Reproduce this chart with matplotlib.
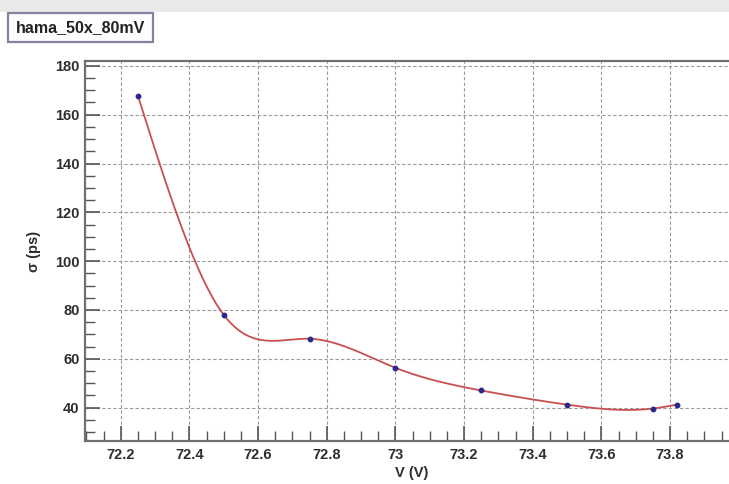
import numpy as np
import matplotlib
matplotlib.use("Agg")
import matplotlib.pyplot as plt
from matplotlib.patches import Rectangle
from matplotlib.ticker import MultipleLocator, FuncFormatter

# Bias voltage scan: time resolution vs. applied voltage
voltage = [72.25, 72.50, 72.75, 73.00, 73.25, 73.50, 73.75, 73.82]
sigma_ps = [167.8, 78.0, 68.2, 56.3, 47.0, 41.2, 39.6, 41.2]
title = "hama_50x_80mV"


def natural_spline(x, y, xs):
    x = np.asarray(x, float)
    y = np.asarray(y, float)
    n = len(x)
    h = np.diff(x)
    A = np.zeros((n, n))
    b = np.zeros(n)
    A[0, 0] = A[-1, -1] = 1.0
    for i in range(1, n - 1):
        A[i, i - 1] = h[i - 1]
        A[i, i] = 2 * (h[i - 1] + h[i])
        A[i, i + 1] = h[i]
        b[i] = 6 * ((y[i + 1] - y[i]) / h[i] - (y[i] - y[i - 1]) / h[i - 1])
    M = np.linalg.solve(A, b)
    idx = np.clip(np.searchsorted(x, xs) - 1, 0, n - 2)
    x0, x1 = x[idx], x[idx + 1]
    hh = x1 - x0
    a = (x1 - xs) / hh
    c = (xs - x0) / hh
    return (a * y[idx] + c * y[idx + 1]
            + ((a ** 3 - a) * M[idx] + (c ** 3 - c) * M[idx + 1]) * hh ** 2 / 6)


W, H = 729, 484
fig = plt.figure(figsize=(W / 100, H / 100), dpi=100)
fig.patch.set_facecolor("white")

# light band along the top of the canvas
fig.patches.append(Rectangle((0, 1 - 12 / H), 1, 12 / H, transform=fig.transFigure,
                             facecolor="#e9e9e9", edgecolor="none", zorder=0))

# title box
fig.patches.append(Rectangle((8 / W, 1 - 42 / H), 145 / W, 29 / H, transform=fig.transFigure,
                             facecolor="#fdfcff", edgecolor="#8a7fa0", linewidth=1.6,
                             zorder=1))

left, right, top, bottom = 85, 738, 61, 441
ax = fig.add_axes([left / W, 1 - bottom / H, (right - left) / W, (bottom - top) / H])

ax.set_xlim(72.096, 73.998)
ax.set_ylim(26.3, 182.0)

family = ["Liberation Sans", "DejaVu Sans"]

ax.xaxis.set_major_locator(MultipleLocator(0.2))
ax.xaxis.set_minor_locator(MultipleLocator(0.05))
ax.yaxis.set_major_locator(MultipleLocator(20))
ax.yaxis.set_minor_locator(MultipleLocator(5))
ax.xaxis.set_major_formatter(FuncFormatter(lambda v, p: f"{v:g}"))

ax.tick_params(which="major", direction="in", length=11, width=1.2, color="#555555",
               top=False, right=False, labelsize=10.5, labelcolor="#2e2e2e")
ax.tick_params(which="minor", direction="in", length=7, width=1.0, color="#555555",
               top=False, right=False)
ax.tick_params(axis="x", which="major", pad=5)
ax.tick_params(axis="y", which="major", pad=4)
for lab in ax.get_xticklabels() + ax.get_yticklabels():
    lab.set_fontfamily(family)
    lab.set_fontweight("bold")

ax.grid(True, which="major", linestyle=(0, (3, 2)), linewidth=0.8, color="#9a9a9a")

for s in ax.spines.values():
    s.set_color("#707070")
    s.set_linewidth(1.6)

xs = np.linspace(voltage[0], voltage[-1], 400)
ax.plot(xs, natural_spline(voltage, sigma_ps, xs), color="#c8504f", linewidth=1.3, zorder=3)
ax.plot(voltage, sigma_ps, linestyle="none", marker="o", markersize=3.2,
        color="#2b2a8c", zorder=4)

ax.set_xlabel("V (V)", fontsize=10.5, color="#2e2e2e", labelpad=3,
              family=family, fontweight="bold")
ax.set_ylabel("σ (ps)", fontsize=10.5, color="#2e2e2e", labelpad=10,
              family=family, fontweight="bold")

fig.text(80.5 / W, 1 - 27.5 / H, title, ha="center", va="center", fontsize=11.5,
         color="#222222", family=family, fontweight="bold", zorder=2)

fig.savefig("out.png", dpi=100)
